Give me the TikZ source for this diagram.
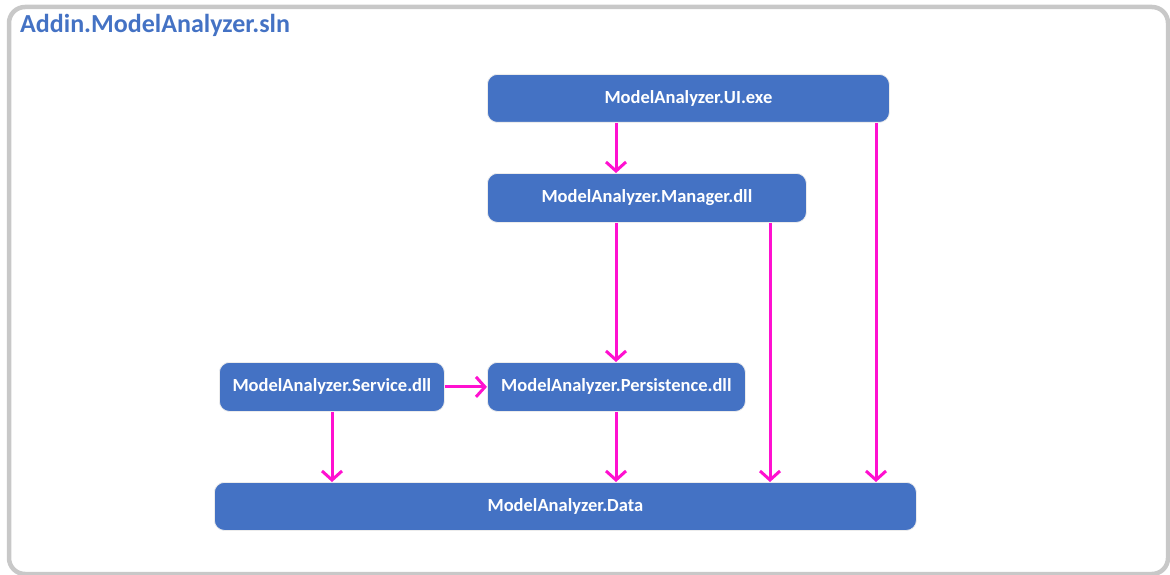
\documentclass[tikz,border=0pt]{standalone}
\usepackage{fontspec}
\setmainfont{Carlito}
\usetikzlibrary{arrows.meta}
\definecolor{boxblue}{HTML}{4472C4}
\definecolor{linkpink}{HTML}{FF10D0}
\definecolor{framegray}{HTML}{C8C8C8}
\begin{document}
\begin{tikzpicture}[x=1pt,y=-1pt,
  module/.style={rectangle, rounded corners=10pt, fill=boxblue, draw=white!85!gray,
    line width=0.8pt, text=white, font=\bfseries\fontsize{18.5}{21}\selectfont,
    anchor=north west, inner sep=0pt},
  dep/.style={draw=linkpink, line width=3pt,
    -{Straight Barb[length=9pt,width=20pt,line width=3pt]}}]
  \useasboundingbox (0,0) rectangle (1170,575);
  % outer solution frame
  \draw[framegray, line width=4.5pt, rounded corners=16pt] (9,7) rectangle (1168,574);
  \node[anchor=west, text=boxblue, font=\bfseries\fontsize{26}{30}\selectfont, inner sep=0pt] (title) at (20,25) {Addin.ModelAnalyzer.sln};
  % project boxes
  \node[module, minimum width=402pt, minimum height=48pt] (ui) at (487,74) {ModelAnalyzer.UI.exe};
  \node[module, minimum width=319pt, minimum height=49pt] (mgr) at (487,173) {ModelAnalyzer.Manager.dll};
  \node[module, minimum width=225pt, minimum height=49pt] (svc) at (219,362) {ModelAnalyzer.Service.dll};
  \node[module, minimum width=258pt, minimum height=49pt] (per) at (487,362) {ModelAnalyzer.Persistence.dll};
  \node[module, minimum width=702pt, minimum height=48pt] (data) at (214,482) {ModelAnalyzer.Data};
  % dependencies
  \draw[dep] (ui.south -| 616,0) -- (mgr.north -| 616,0);
  \draw[dep] (ui.south -| 876,0) -- (data.north -| 876,0);
  \draw[dep] (mgr.south -| 616,0) -- (per.north -| 616,0);
  \draw[dep] (mgr.south -| 770,0) -- (data.north -| 770,0);
  \draw[dep] (svc.east) -- (per.west);
  \draw[dep] (svc.south -| 332,0) -- (data.north -| 332,0);
  \draw[dep] (per.south -| 616,0) -- (data.north -| 616,0);
\end{tikzpicture}
\end{document}
